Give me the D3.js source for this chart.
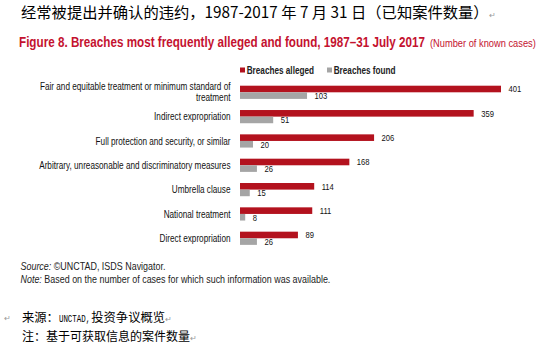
<!DOCTYPE html>
<html><head><meta charset="utf-8">
<script src="https://cdn.jsdelivr.net/npm/d3@7"></script>
<style>
body{margin:0;background:#fff;}
svg{display:block;}
.n{font-family:"Liberation Sans",Arial,sans-serif;}
.cjk{font-family:"Noto Sans CJK SC",sans-serif;}
</style></head>
<body>
<script>
const categories = [
  ["Fair and equitable treatment or minimum standard of","treatment"],
  ["Indirect expropriation"],
  ["Full protection and security, or similar"],
  ["Arbitrary, unreasonable and discriminatory measures"],
  ["Umbrella clause"],
  ["National treatment"],
  ["Direct expropriation"]
];
const alleged = [401, 359, 206, 168, 114, 111, 89];
const found = [103, 51, 20, 26, 15, 8, 26];
const seriesNames = ["Breaches alleged", "Breaches found"];

const W = 540, H = 355;
const RED = "#b3121e", GRAY = "#a5a5a5", TITLE = "#c4122f", ARROW = "#999";
const svg = d3.select("body").append("svg").attr("width", W).attr("height", H);

// condensed text helper (emulates a narrow font)
function nt(parent, x, y, sx, size, txt) {
  return parent.append("text").attr("class","n")
    .attr("transform", `translate(${x},${y}) scale(${sx},1)`)
    .attr("font-size", size).text(txt);
}

// Chinese heading
const h = svg.append("text").attr("class","cjk").attr("x",21).attr("y",17.5)
  .attr("font-size",15.3).attr("fill","#000");
h.append("tspan").text("经常被提出并确认的违约，1987-2017 年 7 月 31 日（已知案件数量）");
h.append("tspan").attr("font-size",8).attr("fill",ARROW).text("↵");

// Figure title
nt(svg, 19, 46.7, 0.835, 14, "Figure 8. Breaches most frequently alleged and found, 1987–31 July 2017")
  .attr("font-weight","bold").attr("fill",TITLE);
nt(svg, 430, 46.5, 0.93, 10, "(Number of known cases)").attr("fill",TITLE);

// scales
const x = d3.scaleLinear().domain([0, 401]).range([240, 501]);
const y = d3.scaleBand().domain(d3.range(categories.length)).range([85.7, 256]);
const bh = 6.6;

// Legend
const lg = svg.append("g");
[[240, RED, seriesNames[0]],[327, GRAY, seriesNames[1]]].forEach(([lx,c,s])=>{
  lg.append("rect").attr("x",lx).attr("y",67.5).attr("width",5).attr("height",5).attr("fill",c);
  nt(lg, lx+6.7, 73.6, 0.82, 10, s).attr("font-weight","bold").attr("fill","#222");
});

const rows = svg.append("g").selectAll("g").data(categories).join("g");
rows.append("rect").attr("x",x(0)).attr("y",(d,i)=>y(i))
  .attr("width",(d,i)=>x(alleged[i])-x(0)).attr("height",bh).attr("fill",RED);
rows.append("rect").attr("x",x(0)).attr("y",(d,i)=>y(i)+bh)
  .attr("width",(d,i)=>x(found[i])-x(0)).attr("height",bh).attr("fill",GRAY);
rows.each(function(d,i){
  const g = d3.select(this);
  nt(g, x(alleged[i])+7.5, y(i)+bh/2+3.3, 0.82, 9.3, alleged[i]).attr("fill","#111");
  nt(g, x(found[i])+7.5, y(i)+bh*1.5+3.3, 0.82, 9.3, found[i]).attr("fill","#111");
  const cy = y(i)+bh;
  d.forEach((line,k)=>{
    nt(g, 230.5, d.length===1 ? cy+3.6 : y(i)+4.6+k*10.8, 0.82, 10, line)
      .attr("text-anchor","end").attr("fill","#111");
  });
});

// source notes
const s1 = nt(svg, 20.5, 270.2, 0.86, 10.4, "").attr("fill","#222");
s1.append("tspan").attr("font-style","italic").text("Source:");
s1.append("tspan").text(" ©UNCTAD, ISDS Navigator.");
const s2 = nt(svg, 20.5, 282.5, 0.86, 10.4, "").attr("fill","#222");
s2.append("tspan").attr("font-style","italic").text("Note:");
s2.append("tspan").text(" Based on the number of cases for which such information was available.");

// Chinese footer
const cf = svg.append("g").attr("fill","#000");
cf.append("text").attr("class","cjk").attr("x",4).attr("y",321).attr("font-size",8).attr("fill",ARROW).text("↵");
const a1 = cf.append("text").attr("class","cjk").attr("x",22).attr("y",321.5).attr("font-size",12.3).text("来源：");
let cx = 22 + a1.node().getComputedTextLength();
const mono = cf.append("text").attr("font-family","Liberation Mono")
  .attr("transform",`translate(${cx},321.5) scale(0.68,1)`).attr("font-size",11).text("UNCTAD,");
cx += mono.node().getComputedTextLength()*0.68 + 1;
const f1 = cf.append("text").attr("class","cjk").attr("x",cx).attr("y",321.5).attr("font-size",12.3);
f1.append("tspan").text("投资争议概览");
f1.append("tspan").attr("font-size",8).attr("fill",ARROW).text("↵");
const f2 = cf.append("text").attr("class","cjk").attr("x",22).attr("y",340.5).attr("font-size",12);
f2.append("tspan").text("注：基于可获取信息的案件数量");
f2.append("tspan").attr("font-size",8).attr("fill",ARROW).text("↵");
</script>
</body></html>
